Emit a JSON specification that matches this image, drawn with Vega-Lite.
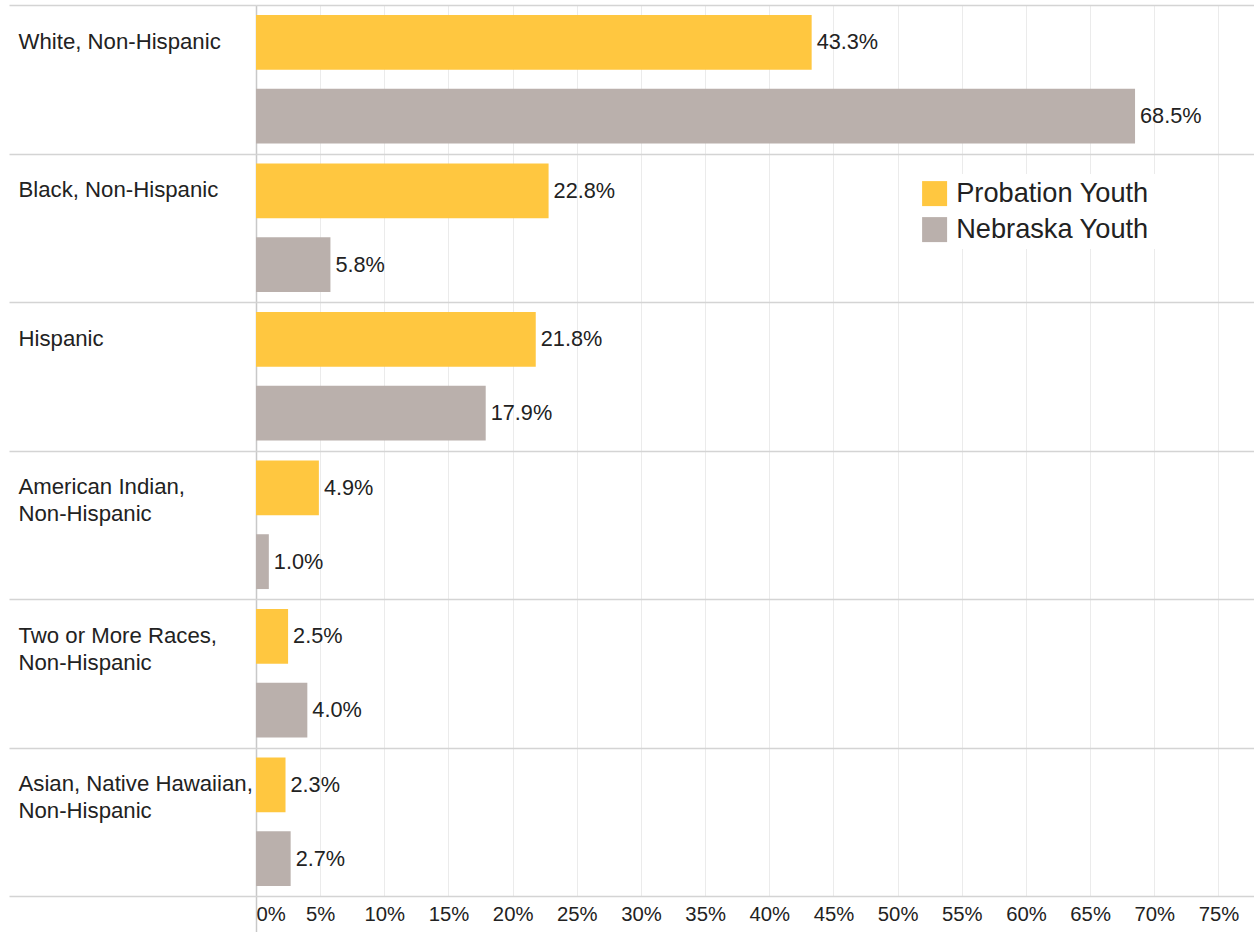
{
  "$schema": "https://vega.github.io/schema/vega-lite/v6.json",
  "autosize": "none",
  "width": 998,
  "height": 891,
  "padding": {"left": 256, "top": 5, "right": 0, "bottom": 36},
  "background": "white",
  "config": {
    "view": {"stroke": null},
    "font": "Liberation Sans",
    "text": {"font": "Liberation Sans"}
  },
  "data": {
    "values": [
      {"race": "White, Non-Hispanic", "group": "Probation Youth", "pct": 0.433},
      {"race": "White, Non-Hispanic", "group": "Nebraska Youth", "pct": 0.685},
      {"race": "Black, Non-Hispanic", "group": "Probation Youth", "pct": 0.228},
      {"race": "Black, Non-Hispanic", "group": "Nebraska Youth", "pct": 0.058},
      {"race": "Hispanic", "group": "Probation Youth", "pct": 0.218},
      {"race": "Hispanic", "group": "Nebraska Youth", "pct": 0.179},
      {"race": "American Indian, Non-Hispanic", "group": "Probation Youth", "pct": 0.049},
      {"race": "American Indian, Non-Hispanic", "group": "Nebraska Youth", "pct": 0.010},
      {"race": "Two or More Races, Non-Hispanic", "group": "Probation Youth", "pct": 0.025},
      {"race": "Two or More Races, Non-Hispanic", "group": "Nebraska Youth", "pct": 0.040},
      {"race": "Asian, Native Hawaiian, Non-Hispanic", "group": "Probation Youth", "pct": 0.023},
      {"race": "Asian, Native Hawaiian, Non-Hispanic", "group": "Nebraska Youth", "pct": 0.027}
    ]
  },
  "encoding": {
    "y": {
      "field": "race",
      "type": "nominal",
      "sort": ["White, Non-Hispanic", "Black, Non-Hispanic", "Hispanic", "American Indian, Non-Hispanic", "Two or More Races, Non-Hispanic", "Asian, Native Hawaiian, Non-Hispanic"],
      "scale": {"paddingInner": 0, "paddingOuter": 0},
      "axis": {
        "title": null,
        "domain": false,
        "tickBand": "extent",
        "ticks": true,
        "tickSize": 247,
        "tickColor": "#d4d4d4",
        "tickWidth": 1.5,
        "grid": true,
        "gridColor": "#d4d4d4",
        "gridWidth": 1.5,
        "labelAlign": "left",
        "labelBaseline": "top",
        "labelPadding": -9,
        "labelOffset": -49,
        "labelFontSize": 22.2,
        "labelLineHeight": 27,
        "labelColor": "#222222",
        "labelLimit": 300,
        "labelExpr": "length(datum.label) > 20 ? [replace(datum.label, ' Non-Hispanic', ''), 'Non-Hispanic'] : datum.label"
      }
    },
    "yOffset": {
      "field": "group",
      "type": "nominal",
      "sort": ["Probation Youth", "Nebraska Youth"],
      "scale": {"paddingInner": 0.257, "paddingOuter": 0.135}
    },
    "x": {
      "field": "pct",
      "type": "quantitative",
      "scale": {"domain": [0, 0.7777], "nice": false, "zero": true},
      "axis": {
        "title": null,
        "domain": false,
        "values": [0, 0.05, 0.1, 0.15, 0.2, 0.25, 0.3, 0.35, 0.4, 0.45, 0.5, 0.55, 0.6, 0.65, 0.7, 0.75],
        "format": ".0%",
        "grid": true,
        "gridColor": {"expr": "datum.value == 0 ? '#c8c8c8' : '#ebebeb'"},
        "gridWidth": {"expr": "datum.value == 0 ? 1.5 : 1"},
        "ticks": true,
        "tickSize": 36,
        "tickColor": {"expr": "datum.value == 0 ? '#c8c8c8' : 'transparent'"},
        "tickWidth": 1.5,
        "labelFlush": true,
        "labelFontSize": 20.3,
        "labelColor": "#222222",
        "labelPadding": -28
      }
    }
  },
  "layer": [
    {
      "mark": {"type": "bar"},
      "encoding": {
        "color": {
          "field": "group",
          "type": "nominal",
          "sort": ["Probation Youth", "Nebraska Youth"],
          "scale": {"domain": ["Probation Youth", "Nebraska Youth"], "range": ["#FFC740", "#BAB0AC"]},
          "legend": {
            "title": null,
            "orient": "none",
            "legendX": 659,
            "legendY": 169,
            "padding": 6,
            "fillColor": "white",
            "symbolType": "square",
            "symbolSize": 625,
            "symbolStrokeWidth": 0,
            "symbolOpacity": 1,
            "labelFontSize": 27.2,
            "labelColor": "#222222",
            "labelOffset": 8,
            "rowPadding": 8,
            "labelLimit": 400
          }
        }
      }
    },
    {
      "mark": {"type": "text", "align": "left", "baseline": "middle", "dx": 5, "fontSize": 21.7, "color": "#222222"},
      "encoding": {
        "text": {"field": "pct", "type": "quantitative", "format": ".1%"}
      }
    }
  ]
}
